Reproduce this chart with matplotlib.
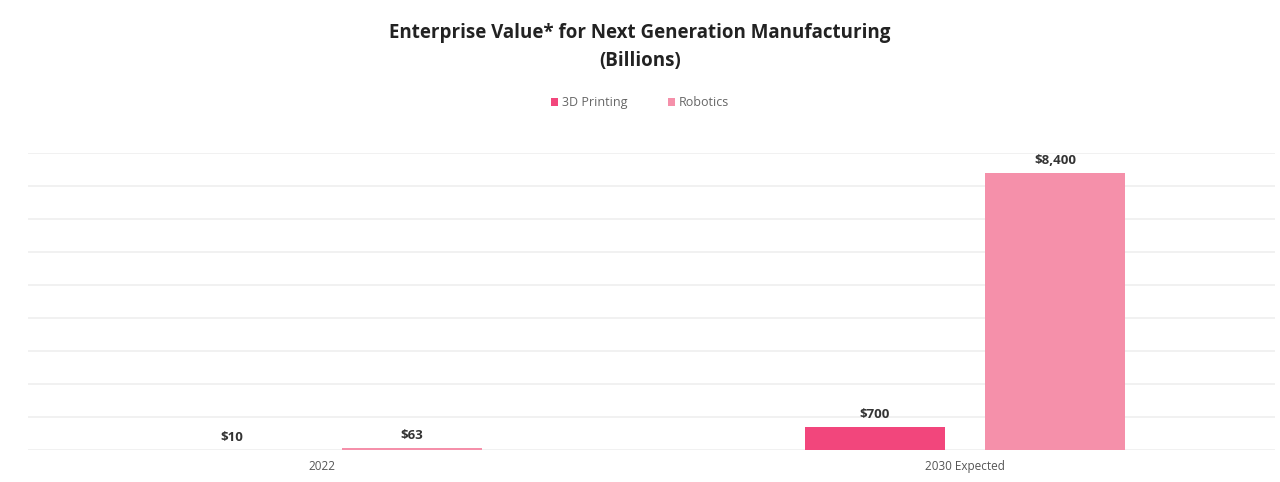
import numpy as np
import matplotlib.pyplot as plt

plt.rcParams['font.family'] = ['Open Sans', 'DejaVu Sans']

years = ['2022', '2030 Expected']
series = ['3D Printing', 'Robotics']
printing_vals = [10, 700]
robotics_vals = [63, 8400]
colors = ['#f2467c', '#f590aa']

fig = plt.figure(figsize=(12.8, 4.82), dpi=100)
ax = fig.add_axes([0.022, 0.066, 0.974, 0.617])

x = np.arange(len(years))
width = 0.218
offset = 0.14

for vals, name, col, sgn in zip([printing_vals, robotics_vals], series, colors, [-1, 1]):
    bars = ax.bar(x + sgn * offset, vals, width, color=col, label=name, zorder=3)
    for b, v in zip(bars, vals):
        ax.text(b.get_x() + b.get_width() / 2, v + 180, f'${v:,}',
                ha='center', va='bottom', fontsize=9.5, fontweight='bold', color='#333333')

ax.set_xlim(-0.457, 1.482)
ax.set_ylim(0, 9000)
ax.set_yticks(np.arange(0, 9001, 1000))
ax.yaxis.grid(True, color='#efefef', linewidth=1.2, zorder=0)
ax.set_yticklabels([])
ax.tick_params(axis='y', length=0)
ax.set_xticks(x)
ax.set_xticklabels(years, fontsize=8.5, color='#555555')
ax.tick_params(axis='x', length=0, pad=7)
for s in ax.spines.values():
    s.set_visible(False)

fig.text(0.5, 0.902, 'Enterprise Value* for Next Generation Manufacturing\n(Billions)',
         ha='center', va='center', fontsize=13.5, fontweight='bold', color='#222222',
         linespacing=1.55)
fig.legend(loc='center', bbox_to_anchor=(0.5, 0.787), ncol=2, frameon=False,
           fontsize=9, handlelength=0.6, handleheight=0.6, columnspacing=3.2,
           handletextpad=0.3, labelcolor='#666666')

fig.savefig('out.png', dpi=100)
